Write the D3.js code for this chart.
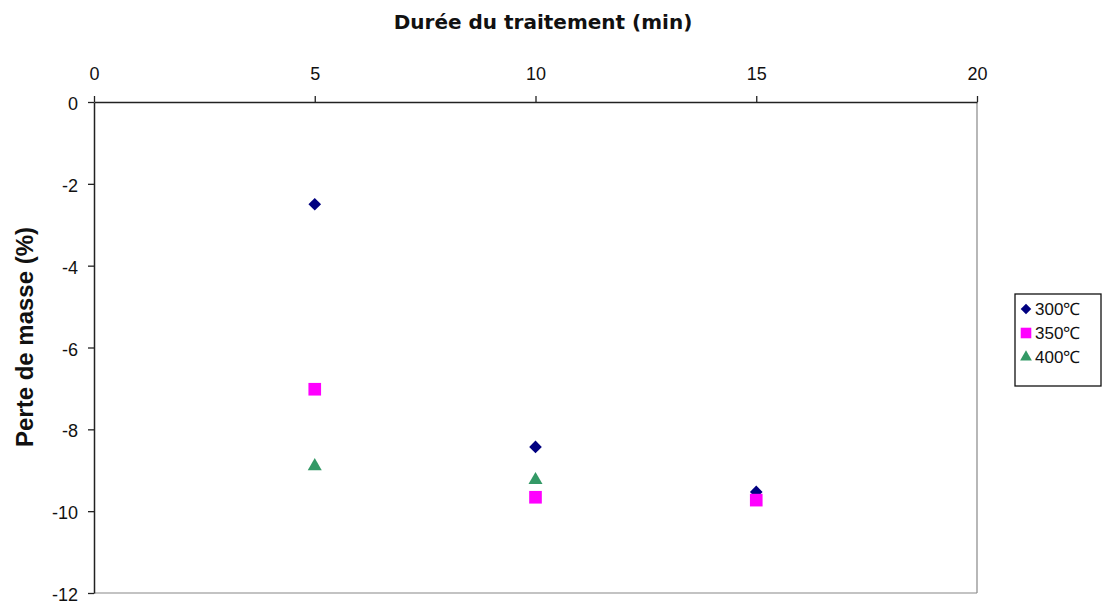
<!DOCTYPE html>
<html>
<head>
<meta charset="utf-8">
<script src="https://cdn.jsdelivr.net/npm/d3@7"></script>
<style>
  body { margin: 0; background: #fff; }
  text { font-family: "Liberation Sans", Arial, sans-serif; fill: #111; }
</style>
</head>
<body>
<svg id="chart" width="1103" height="601"></svg>
<script>
// data
var durations = [5, 10, 15];
var s300 = [-2.5, -8.43, -9.53];
var s350 = [-7.02, -9.66, -9.73];
var s400 = [-8.9, -9.24];
var seriesNames = ['300\u2103', '350\u2103', '400\u2103'];
var xTicks = [0, 5, 10, 15, 20];
var yTicks = [0, -2, -4, -6, -8, -10, -12];

// plot box (named so they don't clash with window.top)
var pLeft = 94, pRight = 977, pTop = 102, pBottom = 593;

var svg = d3.select('#chart');

var x = d3.scaleLinear().domain([0, 20]).range([pLeft, pRight]);
var y = d3.scaleLinear().domain([0, -12]).range([pTop, pBottom]);

// plot frame (right + bottom grey)
svg.append('line').attr('x1', pRight).attr('x2', pRight).attr('y1', pTop).attr('y2', pBottom)
  .attr('stroke', '#888').attr('stroke-width', 1.2);
svg.append('line').attr('x1', pLeft).attr('x2', pRight).attr('y1', pBottom).attr('y2', pBottom)
  .attr('stroke', '#888').attr('stroke-width', 1.2);

var xAxis = svg.append('g').attr('transform', 'translate(0,' + pTop + ')')
  .call(d3.axisTop(x).tickValues(xTicks).tickSize(6).tickPadding(16).tickSizeOuter(0));
var yAxis = svg.append('g').attr('transform', 'translate(' + pLeft + ',0)')
  .call(d3.axisLeft(y).tickValues(yTicks).tickSize(6).tickPadding(10).tickSizeOuter(0)
    .tickFormat(function (d) { return d; }));

[xAxis, yAxis].forEach(function (g) {
  g.select('.domain').attr('stroke', '#222').attr('stroke-width', 1.5);
  g.selectAll('.tick line').attr('stroke', '#222').attr('stroke-width', 1.3);
  g.selectAll('.tick text').style('font-size', '18px').attr('fill', '#222')
    .style('font-family', '"Liberation Sans", Arial, sans-serif');
});
xAxis.selectAll('.tick text').attr('dy', '0');
yAxis.selectAll('.tick text').attr('dy', '0.42em');

// titles
svg.append('text').attr('x', 543).attr('y', 29).attr('text-anchor', 'middle')
  .style('font-family', '"DejaVu Sans", Verdana, sans-serif')
  .style('font-size', '20px').style('font-weight', 'bold').text('Durée du traitement (min)');
svg.append('text').attr('transform', 'translate(33,337) rotate(-90)').attr('text-anchor', 'middle')
  .style('font-size', '24px').style('font-weight', 'bold').text('Perte de masse (%)');

var series = [
  { name: seriesNames[0], vals: s300, color: '#000080', shape: d3.symbolSquare, size: 80, rot: 45 },
  { name: seriesNames[1], vals: s350, color: '#ff00ff', shape: d3.symbolSquare, size: 160, rot: 0 },
  { name: seriesNames[2], vals: s400, color: '#339966', shape: d3.symbolTriangle, size: 85, rot: 0 }
];

series.forEach(function (s) {
  svg.append('g').selectAll('path').data(s.vals).enter().append('path')
    .attr('d', d3.symbol().type(s.shape).size(s.size))
    .attr('transform', function (d, i) {
      return 'translate(' + x(durations[i]) + ',' + y(d) + ') rotate(' + s.rot + ')';
    })
    .attr('fill', s.color);
});

// legend
var lg = svg.append('g').attr('transform', 'translate(1015,294)');
lg.append('rect').attr('width', 86).attr('height', 92).attr('fill', '#fff')
  .attr('stroke', '#111').attr('stroke-width', 1.3);
series.forEach(function (s, i) {
  var yy = 15 + i * 24;
  lg.append('path').attr('d', d3.symbol().type(s.shape).size(s.size * 0.7))
    .attr('transform', 'translate(11,' + yy + ') rotate(' + s.rot + ')').attr('fill', s.color);
  lg.append('text').attr('x', 20).attr('y', yy + 6).style('font-size', '17px').text(s.name);
});
</script>
</body>
</html>
